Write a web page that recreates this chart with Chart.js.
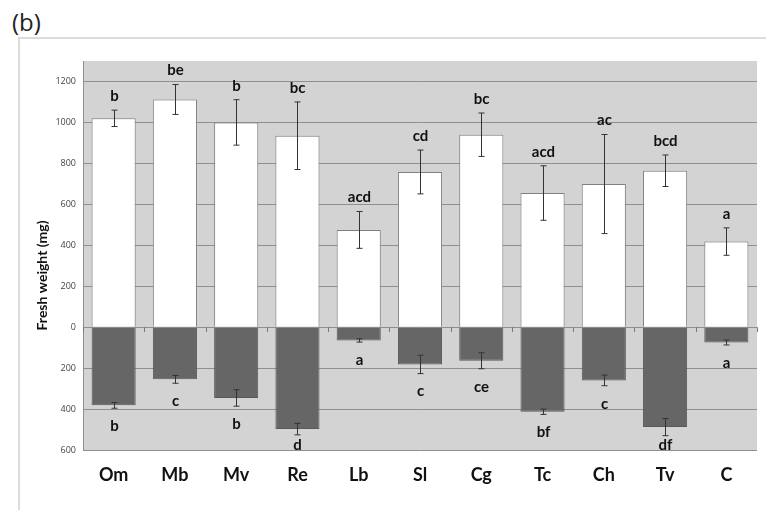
<!DOCTYPE html>
<html>
<head>
<meta charset="utf-8">
<script src="https://cdn.jsdelivr.net/npm/chart.js@4.4.1/dist/chart.umd.min.js"></script>
<style>
  html, body { margin: 0; padding: 0; background: #fff; }
  #wrap { position: relative; width: 766px; height: 510px; overflow: hidden; }
  #frame { position: absolute; left: 18px; top: 37px; width: 760px; height: 480px;
           border-top: 2px solid #dcdcdc; border-left: 2px solid #dcdcdc; }
  #panel { position: absolute; left: 12px; top: 5px; font: 24px 'Open Sans', sans-serif; color: #222; }
  canvas { position: absolute; left: 0; top: 0; }
</style>
</head>
<body>
<div id="wrap">
  <div id="frame"></div>
  <div id="panel">(b)</div>
  <canvas id="chart" width="766" height="510"></canvas>
</div>
<script>
// species on the x axis
const categories = ['Om', 'Mb', 'Mv', 'Re', 'Lb', 'Sl', 'Cg', 'Tc', 'Ch', 'Tv', 'C'];

// white bars (above zero) with SE and letters
const shootValues = [1020, 1112, 1000, 935, 475, 758, 940, 655, 699, 764, 418];
const shootErrors = [40, 73, 111, 165, 90, 107, 106, 133, 242, 77, 67];
const shootLetters = ['b', 'be', 'b', 'bc', 'acd', 'cd', 'bc', 'acd', 'ac', 'bcd', 'a'];

// dark bars (below zero) with SE and letters
const rootValues = [-382, -255, -346, -498, -65, -182, -164, -413, -260, -488, -75];
const rootErrors = [14, 19, 40, 28, 8, 45, 39, 13, 26, 42, 12];
const rootLetters = ['b', 'c', 'b', 'd', 'a', 'c', 'ce', 'bf', 'c', 'df', 'a'];

const yTicks = [-600, -400, -200, 0, 200, 400, 600, 800, 1000, 1200];

// grey plot background
const plotBg = {
    id: 'plotBg',
    beforeDraw(chart) {
        const { ctx, chartArea: a } = chart;
        ctx.save();
        ctx.fillStyle = '#d3d3d3';
        ctx.fillRect(a.left, a.top, a.right - a.left, a.bottom - a.top);
        ctx.restore();
    }
};

// error bars, letters, ticks on the zero line and y title
const extras = {
    id: 'extras',
    afterDatasetsDraw(chart) {
        const { ctx, chartArea: a } = chart;
        const x = chart.scales.x, y = chart.scales.y;
        ctx.save();

        // small ticks under the zero line between categories
        const y0 = y.getPixelForValue(0);
        ctx.strokeStyle = '#7a7a7a';
        ctx.lineWidth = 1;
        for (let i = 0; i <= categories.length; i++) {
            const px = Math.round(x.left + (x.right - x.left) * i / categories.length) + 0.5;
            ctx.beginPath();
            ctx.moveTo(px, y0);
            ctx.lineTo(px, y0 + 5);
            ctx.stroke();
        }

        ctx.strokeStyle = '#333';
        const drawErr = (cx, lo, hi) => {
            const p1 = y.getPixelForValue(lo), p2 = y.getPixelForValue(hi);
            ctx.beginPath();
            ctx.moveTo(cx, p1); ctx.lineTo(cx, p2);
            ctx.moveTo(cx - 3, p1); ctx.lineTo(cx + 3, p1);
            ctx.moveTo(cx - 3, p2); ctx.lineTo(cx + 3, p2);
            ctx.stroke();
        };

        ctx.fillStyle = '#111';
        ctx.font = 'bold 15px Lato, sans-serif';
        ctx.textAlign = 'center';
        ctx.textBaseline = 'middle';
        categories.forEach((c, i) => {
            const cx = Math.round(x.getPixelForValue(i)) + 0.5;
            drawErr(cx, shootValues[i] - shootErrors[i], shootValues[i] + shootErrors[i]);
            drawErr(cx, rootValues[i] - rootErrors[i], rootValues[i] + rootErrors[i]);
            const top = y.getPixelForValue(shootValues[i] + shootErrors[i]) - 14;
            ctx.fillText(shootLetters[i], cx, top);
            const bot = Math.min(y.getPixelForValue(rootValues[i] - rootErrors[i]) + 18, a.bottom - 5);
            ctx.fillText(rootLetters[i], cx, bot);
        });

        // y axis title
        ctx.translate(42, (a.top + a.bottom) / 2 + 20);
        ctx.rotate(-Math.PI / 2);
        ctx.font = 'bold 14px Lato, sans-serif';
        ctx.fillText('Fresh weight (mg)', 0, 0);
        ctx.restore();
    }
};

new Chart(document.getElementById('chart'), {
    type: 'bar',
    data: {
        labels: categories,
        datasets: [
            {
                data: shootValues,
                backgroundColor: '#ffffff',
                borderColor: '#808080',
                borderWidth: 1
            },
            {
                data: rootValues,
                backgroundColor: '#666666',
                borderColor: '#595959',
                borderWidth: 1
            }
        ]
    },
    options: {
        responsive: false,
        animation: false,
        layout: { padding: { top: 61, right: 9, left: 0, bottom: 0 } },
        datasets: { bar: { categoryPercentage: 1, barPercentage: 0.72 } },
        plugins: {
            legend: { display: false },
            tooltip: { enabled: false }
        },
        scales: {
            x: {
                stacked: true,
                grid: { display: false },
                border: { display: false },
                ticks: {
                    padding: 6,
                    color: '#111',
                    font: { family: 'Lato', size: 18, weight: 'bold' }
                },
                afterFit(scale) { scale.height = 60; }
            },
            y: {
                stacked: true,
                min: -600,
                max: 1300,
                afterBuildTicks(scale) {
                    scale.ticks = yTicks.map(v => ({ value: v }));
                },
                grid: { color: '#8f8f8f', lineWidth: 1, drawTicks: false },
                border: { display: true, color: '#8f8f8f' },
                ticks: {
                    padding: 7,
                    color: '#444',
                    font: { family: 'Open Sans', size: 9 },
                    callback: v => Math.abs(v)
                },
                afterFit(scale) { scale.width = 83; }
            }
        }
    },
    plugins: [plotBg, extras]
});
</script>
</body>
</html>
